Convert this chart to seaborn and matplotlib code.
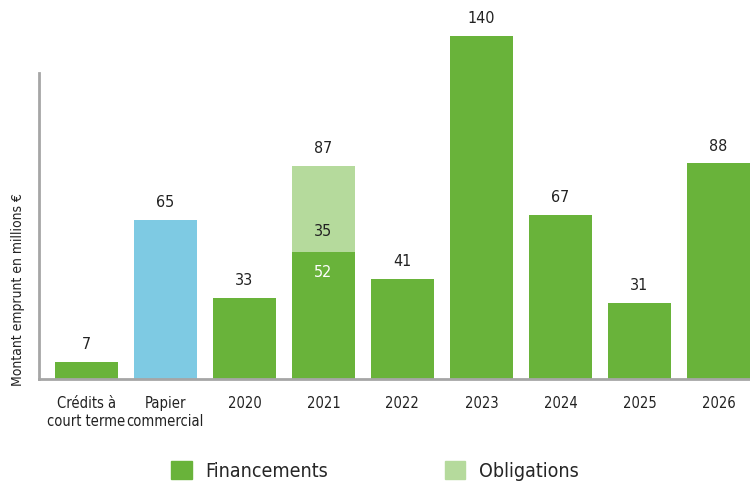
import matplotlib
matplotlib.use("Agg")
import matplotlib.pyplot as plt
import matplotlib.patches as mpatches
import seaborn as sns
import pandas as pd

categories = ["Crédits à\ncourt terme", "Papier\ncommercial", "2020", "2021", "2022",
              "2023", "2024", "2025", "2026"]
financements = [7, 65, 33, 52, 41, 140, 67, 31, 88]
obligations = [0, 0, 0, 35, 0, 0, 0, 0, 0]
bar_colors = ["#69b33a", "#7ecae3", "#69b33a", "#69b33a", "#69b33a",
              "#69b33a", "#69b33a", "#69b33a", "#69b33a"]
light_green = "#b5da9c"

sns.set_theme(style="white")
plt.rcParams["font.family"] = ["DejaVu Sans"]
plt.rcParams["font.stretch"] = "condensed"

df = pd.DataFrame({"cat": categories, "fin": financements, "obl": obligations})
df["total"] = df["fin"] + df["obl"]

fig = plt.figure(figsize=(7.5, 4.82), dpi=100)
ax = fig.add_axes([39 / 750, 1 - 379 / 482, 1 - 39 / 750, 379 / 482])

sns.barplot(data=df, x="cat", y="total", color=light_green, width=0.8,
            saturation=1, linewidth=0, ax=ax)
sns.barplot(data=df, x="cat", y="fin", hue="cat", palette=bar_colors, width=0.8,
            saturation=1, legend=False, linewidth=0, ax=ax)

ax.set_xlim(-0.6, 8.4)
ax.set_ylim(0, 379 / 2.45)
ax.set_xlabel("")
ax.set_ylabel("")
ax.set_yticks([])
for s in ["top", "right"]:
    ax.spines[s].set_visible(False)
ax.spines["left"].set_bounds(0, 125)
for s in ["left", "bottom"]:
    ax.spines[s].set_color("#a6a6a6")
    ax.spines[s].set_linewidth(2)
ax.tick_params(axis="x", length=0, pad=12, labelsize=10.5, colors="#222222")
ax.set_xticks(range(len(categories)))
ax.set_xticklabels(categories, linespacing=1.3)

for i, (f, o) in enumerate(zip(financements, obligations)):
    tot = f + o
    ax.text(i, tot + 4, str(tot), ha="center", va="bottom", fontsize=11.5, color="#222222")
    if o > 0:
        ax.text(i, f + 5, str(o), ha="center", va="bottom", fontsize=11.5, color="#222222")
        ax.text(i, f - 5.5, str(f), ha="center", va="top", fontsize=11.5, color="white")

fig.text(18 / 750, 1 - 290 / 482, "Montant emprunt en millions €", rotation=90,
         ha="center", va="center", fontsize=10, color="#222222")

handles = [mpatches.Patch(color="#69b33a", label="Financements"),
           mpatches.Patch(color=light_green, label="Obligations")]
fig.legend(handles=handles, loc="center", bbox_to_anchor=(0.5, 1 - 471 / 482), ncol=2,
           frameon=False, fontsize=14, handlelength=1.05, handleheight=1.05,
           columnspacing=6.0, handletextpad=0.7)

fig.savefig("out.png", dpi=100)
